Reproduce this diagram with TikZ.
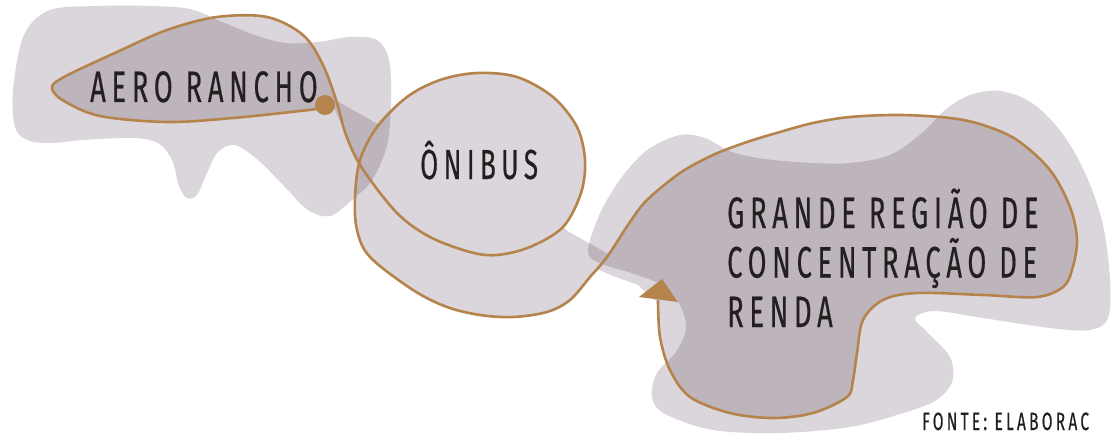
\documentclass[tikz,border=0pt]{standalone}
\usepackage{fontspec}
\newfontfamily\lblfont{Fira Sans}[FakeStretch=0.62,LetterSpace=13,FakeBold=0.4]
\definecolor{lightc}{HTML}{DBD6DB}
\definecolor{darkc}{HTML}{BDB4BC}
\definecolor{brownc}{HTML}{B5844C}
\definecolor{textc}{HTML}{231F20}
\def\blobA{plot[smooth cycle, tension=0.55] coordinates {(15,127) (13,90) (24,35) (50,10) (100,6) (150,6) (190,9) (220,21) (252,34) (285,43) (318,42) (350,37) (377,40) (389,60) (391,100) (387,145) (372,180) (352,200) (330,216) (308,210) (285,187) (258,160) (235,145) (218,152) (207,173) (197,195) (187,198) (179,186) (172,160) (158,143) (133,138) (83,140) (50,143) (27,140)}}
\def\blobB{plot[smooth cycle, tension=0.55] coordinates {(588,252) (598,218) (613,190) (630,167) (650,148) (680,135) (705,138) (732,152) (765,159) (813,163) (850,163) (890,155) (922,133) (945,110) (970,95) (1000,91) (1032,103) (1062,133) (1086,175) (1103,225) (1110,280) (1108,318) (1090,330) (1050,328) (983,318) (935,311) (915,318) (927,332) (950,357) (952,382) (935,401) (900,414) (850,427) (780,433) (713,430) (665,414) (652,397) (657,373) (676,352) (686,328) (679,303) (662,285) (632,273) (602,264)}}
\def\routeAero{plot[smooth cycle, tension=0.55] coordinates {(325,108) (300,111) (233,118) (167,122) (100,116) (64,101) (52,88) (64,77) (117,52) (167,30) (217,17) (267,17) (303,35) (323,65) (337,103)}}
\def\routeOnibus{plot[smooth, tension=0.55] coordinates {(359,165) (377,127) (407,97) (440,80) (477,73) (517,77) (553,97) (577,127) (585,160) (581,193) (563,227)} -- (600,262) -- plot[smooth, tension=0.55] coordinates {(590,277) (570,300) (547,312) (513,317) (480,315) (447,307) (413,290) (370,257) (357,230) (355,197) (359,165)} -- cycle}
\def\routeGrande{plot[smooth, tension=0.55] coordinates {(607,257) (630,222) (647,200) (680,173) (713,155) (747,142) (780,132) (813,123) (850,117) (900,115) (950,118) (983,125) (1017,140) (1050,170) (1070,207) (1077,240) (1072,270) (1063,287) (1037,297) (983,295) (917,293) (883,300) (863,320) (857,353) (853,380) (847,397) (813,413) (773,418) (730,413) (690,397) (670,370) (660,337) (658,303)} -- cycle}
\def\bandpath{(328,96) -- (665,286) -- (658,292) -- (613,276) -- (360,165) -- (335,110) -- cycle}
\begin{document}
\begin{tikzpicture}[x=1pt,y=-1pt,
  lbl/.style={inner sep=0pt, anchor=base west, text=textc},
  routeline/.style={draw=brownc, line width=2.6pt, line join=round, line cap=round}]
\useasboundingbox (0,0) rectangle (1112,436);
\clip (0,0) rectangle (1112,436);
\fill[white] (0,0) rectangle (1112,436);
% background blobs
\fill[lightc] \blobA;
\fill[lightc] \blobB;
% route regions
\fill[lightc] \routeAero;
\fill[lightc] \routeOnibus;
\fill[lightc] \routeGrande;
\fill[lightc] \bandpath;
% overlaps
\begin{scope}
  \clip \blobA;
  \fill[darkc] \routeAero;
  \fill[darkc] \routeOnibus;
  \fill[darkc] \bandpath;
\end{scope}
\begin{scope}
  \clip \blobB;
  \fill[darkc] \routeGrande;
  \fill[darkc] \routeOnibus;
  \fill[darkc] \bandpath;
\end{scope}
% the route line
\draw[routeline] plot[smooth, tension=0.55] coordinates {(325,108) (300,111) (233,118) (167,122) (100,116) (64,101) (52,88) (64,77) (117,52) (167,30) (217,17) (267,17) (303,35) (323,65) (337,103) (346,135) (362,168) (397,213) (430,237) (470,252) (497,255) (530,247) (563,227) (581,193) (585,160) (577,127) (553,97) (517,77) (477,73) (440,80) (407,97) (377,127) (360,160) (355,197) (357,230) (370,257) (413,290) (447,307) (480,315) (513,317) (547,312) (570,300) (590,277) (607,257) (630,222) (647,200) (680,173) (713,155) (747,142) (780,132) (813,123) (850,117) (900,115) (950,118) (983,125) (1017,140) (1050,170) (1070,207) (1077,240) (1072,270) (1063,287) (1037,297) (983,295) (917,293) (883,300) (863,320) (857,353) (853,380) (847,397) (813,413) (773,418) (730,413) (690,397) (670,370) (660,337) (658,301)};
\fill[brownc] (325,105) circle (10pt);
\fill[brownc] (639,297) -- (662,279) -- (678,302) -- cycle;
% labels
\node[lbl, font=\lblfont\fontsize{44}{50}\selectfont] (aero) at (90,102) {AERO RANCHO};
\node[lbl, font=\lblfont\fontsize{42}{48}\selectfont] (onibus) at (420,179) {ÔNIBUS};
\node[lbl, font=\lblfont\fontsize{44}{50}\selectfont] (g1) at (727,228) {GRANDE REGIÃO DE};
\node[lbl, font=\lblfont\fontsize{44}{50}\selectfont] (g2) at (727,277.5) {CONCENTRAÇÃO DE};
\node[lbl, font=\lblfont\fontsize{44}{50}\selectfont] (g3) at (727,327) {RENDA};
\node[lbl, font=\lblfont\fontsize{25}{30}\selectfont] (fonte) at (922,430) {FONTE: ELABORAC};
\end{tikzpicture}
\end{document}
